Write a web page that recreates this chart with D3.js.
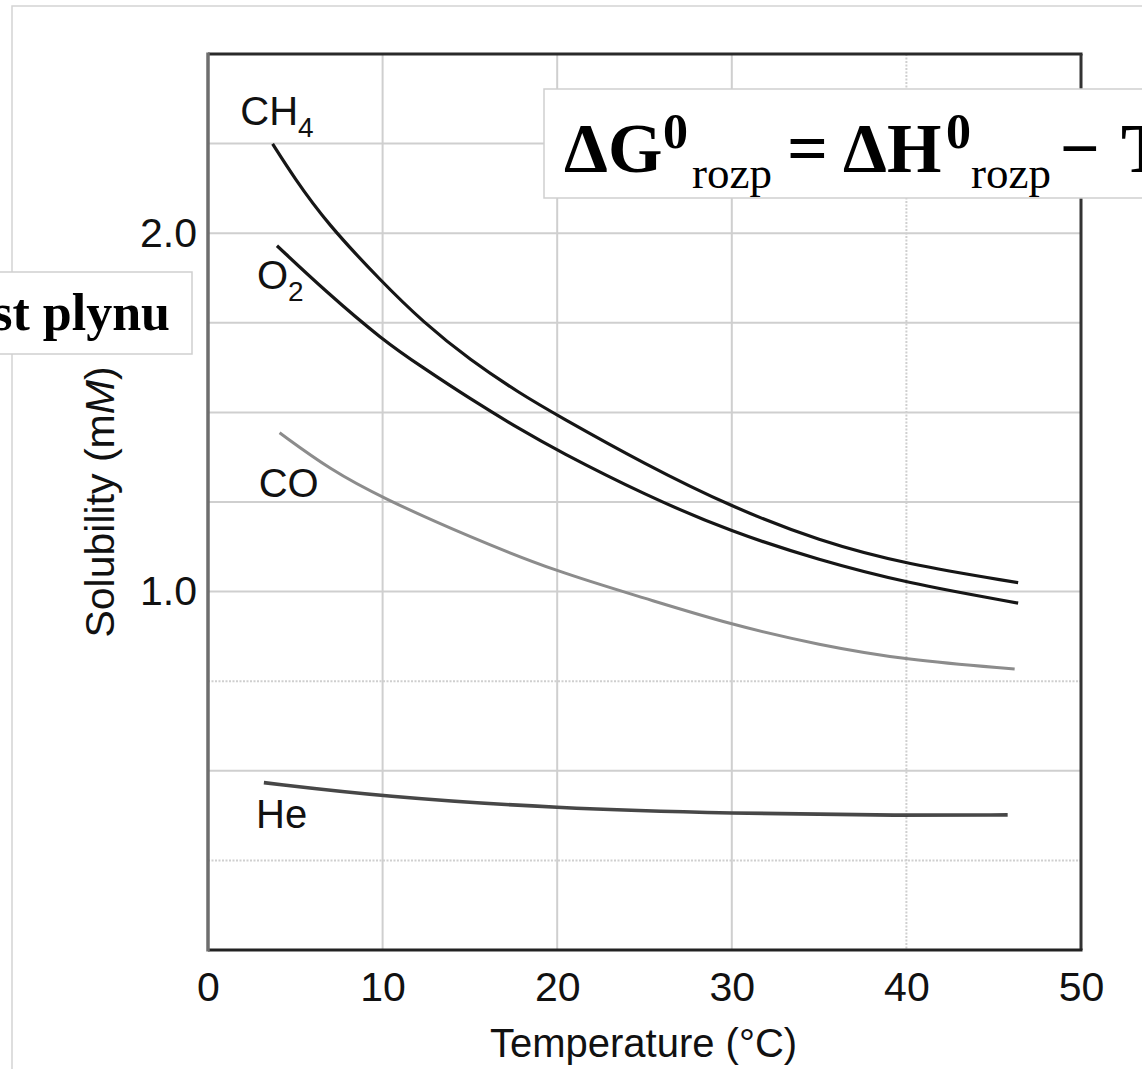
<!DOCTYPE html>
<html>
<head>
<meta charset="utf-8">
<script src="https://cdn.jsdelivr.net/npm/d3@7"></script>
<style>
  body { margin: 0; background: #fff; }
  svg { display: block; }
</style>
</head>
<body>
<div id="chart"></div>
<script>
// values: temperature (°C) and solubility (mM)
const ch4Temp = [3.7, 4.9, 6.8, 10, 12.3, 15, 17.9, 20, 25, 30, 35, 40, 46.4];
const ch4Sol  = [2.249, 2.157, 2.028, 1.862, 1.753, 1.646, 1.552, 1.492, 1.356, 1.236, 1.141, 1.076, 1.025];
const o2Temp  = [3.95, 6.8, 10, 12.3, 15, 17.9, 20, 25, 30, 35, 40, 46.4];
const o2Sol   = [1.965, 1.835, 1.702, 1.625, 1.538, 1.452, 1.394, 1.270, 1.166, 1.088, 1.024, 0.968];
const coTemp  = [4.1, 7, 10, 15, 20, 25, 30, 35, 40, 46.2];
const coSol   = [1.443, 1.340, 1.261, 1.152, 1.055, 0.982, 0.907, 0.851, 0.809, 0.784];
const heTemp  = [3.2, 10, 20, 30, 40, 45.8];
const heSol   = [0.467, 0.428, 0.395, 0.381, 0.375, 0.377];

const xTicks = [0, 10, 20, 30, 40, 50];
const yTicks = [1.0, 2.0];
const xGrid = [10, 20, 30, 40];
const yGrid = [0.25, 0.5, 0.75, 1.0, 1.25, 1.5, 1.75, 2.0, 2.25];

// gas names and where their names sit (temperature, solubility)
const gasNames = ['CH', 'O', 'CO', 'He'];
const gasSubs = ['4', '2', '', ''];
const labelTemp = [1.85, 2.8, 2.9, 2.75];
const labelSol = [2.302, 1.844, 1.264, 0.340];

const width = 1142, height = 1069;
const svg = d3.select('#chart').append('svg')
    .attr('width', width)
    .attr('height', height);

// faint slide frame
svg.append('rect')
    .attr('x', 12).attr('y', 6)
    .attr('width', 1200).attr('height', 1200)
    .attr('fill', 'none')
    .attr('stroke', '#d4d4d4')
    .attr('stroke-width', 1.5);

const plot = {left: 208, right: 1081, top: 54, bottom: 950};

let x = d3.scaleLinear().domain([0, 50]).range([plot.left, plot.right]);
let y = d3.scaleLinear().domain([0, 2.5]).range([plot.bottom, plot.top]);

// grid
svg.append('g').selectAll('line')
    .data(yGrid)
    .enter()
    .append('line')
    .attr('x1', plot.left).attr('x2', plot.right)
    .attr('y1', function(d) {return y(d)})
    .attr('y2', function(d) {return y(d)})
    .attr('stroke', '#cfcfcf')
    .attr('stroke-width', 2)
    .attr('stroke-dasharray', function(d) {return (d === 0.25 || d === 0.75) ? '2,1.5' : null});

svg.append('g').selectAll('line')
    .data(xGrid)
    .enter()
    .append('line')
    .attr('y1', plot.top).attr('y2', plot.bottom)
    .attr('x1', function(d) {return x(d)})
    .attr('x2', function(d) {return x(d)})
    .attr('stroke', '#cfcfcf')
    .attr('stroke-width', 2)
    .attr('stroke-dasharray', function(d) {return d === 40 ? '2,1.5' : null});

// frame
svg.append('line').attr('x1', plot.left).attr('x2', plot.right + 1.5)
    .attr('y1', plot.top).attr('y2', plot.top)
    .attr('stroke', '#2a2a2a').attr('stroke-width', 3);
svg.append('line').attr('x1', plot.right).attr('x2', plot.right)
    .attr('y1', plot.top).attr('y2', plot.bottom)
    .attr('stroke', '#333').attr('stroke-width', 3);
svg.append('line').attr('x1', plot.left).attr('x2', plot.right + 1.5)
    .attr('y1', plot.bottom).attr('y2', plot.bottom)
    .attr('stroke', '#222').attr('stroke-width', 3);
svg.append('line').attr('x1', plot.left).attr('x2', plot.left)
    .attr('y1', plot.top - 1.5).attr('y2', plot.bottom + 1.5)
    .attr('stroke', '#6e6e6e').attr('stroke-width', 3.5);

// axes (labels only, frame drawn above)
let xAxis = svg.append('g')
    .attr('transform', 'translate(0,' + plot.bottom + ')')
    .call(d3.axisBottom(x).tickValues(xTicks).tickSize(0).tickPadding(22));
let yAxis = svg.append('g')
    .attr('transform', 'translate(' + plot.left + ',0)')
    .call(d3.axisLeft(y).tickValues(yTicks).tickSize(0).tickPadding(11).tickFormat(d3.format('.1f')));

[xAxis, yAxis].forEach(function(a) {
    a.select('.domain').remove();
    a.selectAll('text')
        .attr('fill', '#111')
        .style('font-family', 'Liberation Sans, Arial, sans-serif')
        .style('font-size', '41px');
});

svg.append('text')
    .attr('x', (plot.left + plot.right) / 2 - 1)
    .attr('y', 1057)
    .attr('text-anchor', 'middle')
    .attr('fill', '#111')
    .style('font-family', 'Liberation Sans, Arial, sans-serif')
    .style('font-size', '40px')
    .text('Temperature (°C)');

let yTitle = svg.append('text')
    .attr('transform', 'translate(114,502) rotate(-90)')
    .attr('text-anchor', 'middle')
    .attr('fill', '#111')
    .style('font-family', 'Liberation Sans, Arial, sans-serif')
    .style('font-size', '41px');
yTitle.append('tspan').text('Solubility (m');
yTitle.append('tspan').style('font-style', 'italic').text('M');
yTitle.append('tspan').text(')');

// curves
let line = d3.line()
    .x(function(d) {return x(d[0])})
    .y(function(d) {return y(d[1])})
    .curve(d3.curveBasis);

const series = [
    {temp: ch4Temp, sol: ch4Sol, color: '#161616', w: 3.2},
    {temp: o2Temp, sol: o2Sol, color: '#161616', w: 3.2},
    {temp: coTemp, sol: coSol, color: '#8c8c8c', w: 3},
    {temp: heTemp, sol: heSol, color: '#474747', w: 3.6}
];

svg.append('g').selectAll('path')
    .data(series)
    .enter()
    .append('path')
    .attr('d', function(s) {return line(d3.zip(s.temp, s.sol))})
    .attr('fill', 'none')
    .attr('stroke', function(s) {return s.color})
    .attr('stroke-width', function(s) {return s.w})
    .attr('stroke-linecap', 'butt');

// gas labels
let labels = svg.append('g').selectAll('text')
    .data(gasNames)
    .enter()
    .append('text')
    .attr('x', function(d, i) {return x(labelTemp[i])})
    .attr('y', function(d, i) {return y(labelSol[i])})
    .attr('fill', '#111')
    .style('font-family', 'Liberation Sans, Arial, sans-serif')
    .style('font-size', '40px');
labels.append('tspan').text(function(d) {return d});
labels.append('tspan')
    .attr('dy', 12)
    .style('font-size', '28px')
    .text(function(d, i) {return gasSubs[i]});

// overlay boxes from the slide
svg.append('rect')
    .attr('x', -10).attr('y', 272)
    .attr('width', 202).attr('height', 82)
    .attr('fill', '#fff')
    .attr('stroke', '#cfcfcf')
    .attr('stroke-width', 1.5);
svg.append('text')
    .attr('x', 170).attr('y', 330)
    .attr('text-anchor', 'end')
    .attr('fill', '#000')
    .style('font-family', 'Liberation Serif, Times New Roman, serif')
    .style('font-weight', 'bold')
    .style('font-size', '52px')
    .text('Rozpustnost plynu');

svg.append('rect')
    .attr('x', 544).attr('y', 89)
    .attr('width', 700).attr('height', 109)
    .attr('fill', '#fff')
    .attr('stroke', '#cfcfcf')
    .attr('stroke-width', 1.5);

const formulaParts = [
    {t: 'ΔG', x: 564, y: 172, size: 70, bold: true},
    {t: '0', x: 663, y: 148, size: 50, bold: true},
    {t: 'rozp', x: 692, y: 188, size: 45, bold: false},
    {t: '=', x: 787, y: 172, size: 72, bold: true},
    {t: 'ΔH', x: 843, y: 172, size: 70, bold: true},
    {t: '0', x: 946, y: 148, size: 50, bold: true},
    {t: 'rozp', x: 971, y: 188, size: 45, bold: false},
    {t: '−', x: 1060, y: 172, size: 70, bold: true},
    {t: 'TΔS', x: 1121, y: 172, size: 70, bold: true}
];

svg.append('g').selectAll('text')
    .data(formulaParts)
    .enter()
    .append('text')
    .attr('x', function(d) {return d.x})
    .attr('y', function(d) {return d.y})
    .attr('fill', '#000')
    .style('font-family', 'Liberation Serif, Times New Roman, serif')
    .style('font-weight', function(d) {return d.bold ? 'bold' : 'normal'})
    .style('font-size', function(d) {return d.size + 'px'})
    .text(function(d) {return d.t});
</script>
</body>
</html>
